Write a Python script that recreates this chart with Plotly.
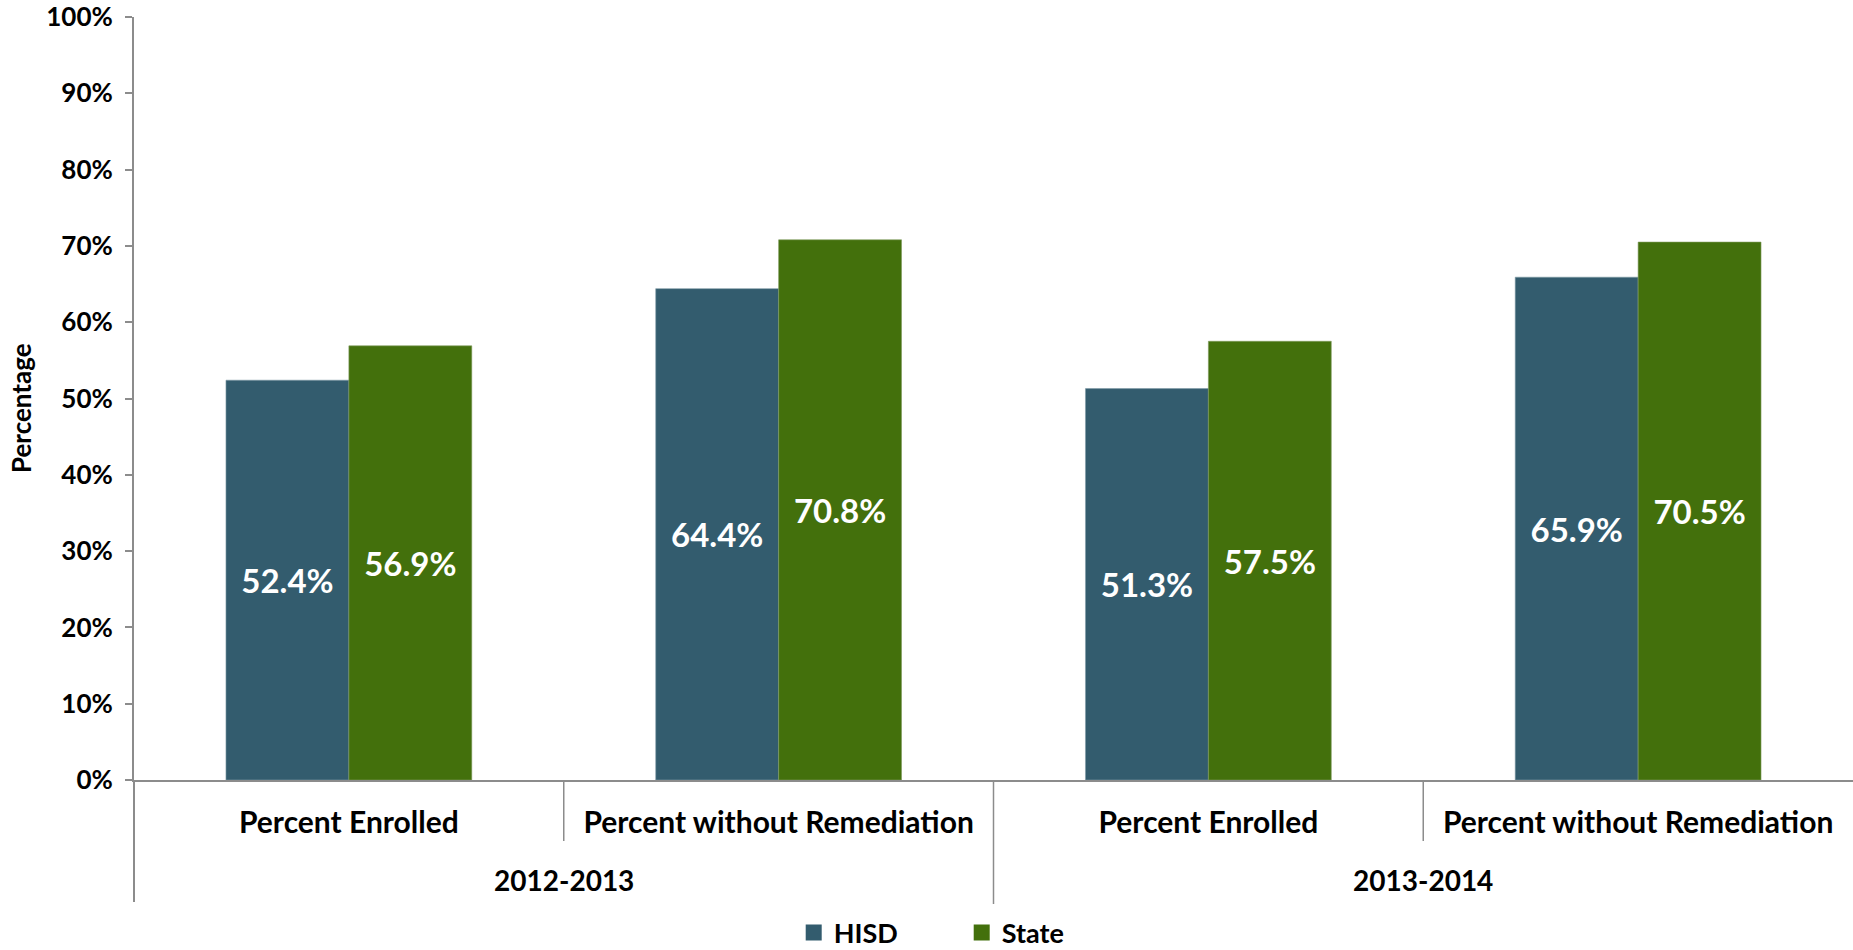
import plotly.graph_objects as go

# -------------------------------
# Data
# -------------------------------
years = ["2012-2013", "2012-2013", "2013-2014", "2013-2014"]
measures = ["Percent Enrolled", "Percent without Remediation",
            "Percent Enrolled", "Percent without Remediation"]
hisd = [52.4, 64.4, 51.3, 65.9]
state = [56.9, 70.8, 57.5, 70.5]
y_ticks = list(range(0, 101, 10))

series = [("HISD", hisd, "#335c6e", "#7f9aa6"),
          ("State", state, "#43700c", "#7f9a5e")]

keys = [f"{y}|{m}" for y, m in zip(years, measures)]

FONT = "Lato"
AXIS_GREY = "#8c8c8c"
W, H = 1853, 950
M_L, M_T, M_B = 134, 17, 170
plot_w = W - M_L
plot_h = H - M_T - M_B

fig = go.Figure()
for name, vals, color, edge in series:
    fig.add_trace(go.Bar(
        x=keys, y=vals, name=name, showlegend=False,
        marker=dict(color=color, line=dict(color=edge, width=0.6)),
        text=[f"{v:.1f}%" for v in vals],
        textposition="inside", insidetextanchor="middle",
        textfont=dict(family=FONT, size=33, color="white", weight="bold"),
        constraintext="none",
    ))
    # legend entry with a larger square swatch
    fig.add_trace(go.Scatter(
        x=[None], y=[None], mode="markers", name=name,
        marker=dict(symbol="square", size=18, color=color),
    ))

# Dividers under the category axis (short between measures, long between years)
for i in range(1, len(keys)):
    long_div = years[i] != years[i - 1]
    drop = 124 if long_div else 61
    fig.add_shape(type="line", xref="x", yref="paper",
                  x0=i - 0.5, x1=i - 0.5, y0=0, y1=-drop / plot_h,
                  line=dict(color=AXIS_GREY, width=1.5))
# y axis line continued below the plot
fig.add_shape(type="line", xref="paper", yref="paper",
              x0=0, x1=0, y0=0, y1=-122 / plot_h,
              line=dict(color=AXIS_GREY, width=2))

# Year labels centred on each year group
seen = []
for y in years:
    if y in seen:
        continue
    seen.append(y)
    idx = [j for j, v in enumerate(years) if v == y]
    fig.add_annotation(x=sum(idx) / len(idx), xref="x", y=-100 / plot_h, yref="paper",
                       text=f"<b>{y}</b>", showarrow=False,
                       font=dict(family=FONT, size=28, color="black"),
                       xanchor="center", yanchor="middle")

# y axis title (sits a little below the plot centre, as in the original)
fig.add_annotation(x=(21 - M_L) / plot_w, xref="paper",
                   y=(H - M_B - 408) / plot_h, yref="paper",
                   text="<b>Percentage</b>", textangle=-90, showarrow=False,
                   font=dict(family=FONT, size=26, color="black"),
                   xanchor="center", yanchor="middle")

fig.update_layout(
    width=W, height=H,
    barmode="group", bargap=0.428, bargroupgap=0,
    plot_bgcolor="white", paper_bgcolor="white",
    margin=dict(l=M_L, r=0, t=M_T, b=M_B),
    font=dict(family=FONT, color="black"),
    legend=dict(orientation="h", xref="container", yref="container",
                x=0.519, xanchor="center", y=17 / H, yanchor="middle",
                font=dict(family=FONT, size=27, color="black", weight="bold"),
                entrywidth=123, entrywidthmode="pixels",
                itemclick=False, itemdoubleclick=False),
    showlegend=True,
)
fig.update_xaxes(
    type="category", tickvals=keys, ticktext=[f"<b>{m}</b>" for m in measures],
    tickfont=dict(family=FONT, size=30, color="black"),
    ticks="", ticklabelstandoff=15,
    showline=True, linecolor=AXIS_GREY, linewidth=2,
    showgrid=False, zeroline=False, automargin=False,
)
fig.update_yaxes(
    range=[0, 100], tickvals=y_ticks, ticktext=[f"<b>{v}%</b>" for v in y_ticks],
    tickfont=dict(family=FONT, size=26, color="black"),
    ticks="outside", ticklen=7, tickcolor=AXIS_GREY, tickwidth=1.5,
    ticklabelstandoff=7, ticklabeloverflow="allow",
    showline=True, linecolor=AXIS_GREY, linewidth=2,
    showgrid=False, zeroline=False, automargin=False,
)

# drop the browser's default 8px body margin so the figure fills the window
fig.write_html("out.html", config={"displayModeBar": False},
               post_script="document.body.style.margin = '0';")
